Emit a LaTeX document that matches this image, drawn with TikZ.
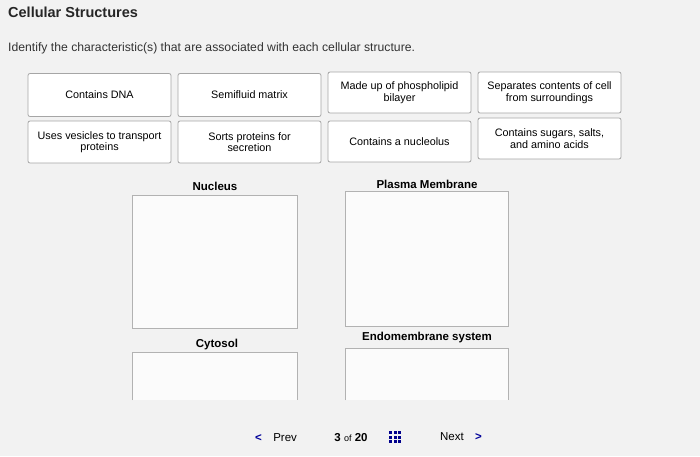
\documentclass[tikz,border=0pt]{standalone}
\usepackage{fontspec}
\setmainfont{Liberation Sans}
\begin{document}
\begin{tikzpicture}[x=1pt,y=-1pt,
  card/.style={draw=gray!70,fill=white,rounded corners=2pt,line width=0.8pt,align=center,font=\fontsize{10.8}{11.5}\selectfont,inner sep=1pt},
  drop/.style={draw=gray!60,fill=white!97!gray,line width=0.7pt},
  head/.style={font=\bfseries\fontsize{11.5}{13}\selectfont}]
\fill[gray!10] (0,0) rectangle (700,456);
\node[anchor=west,font=\bfseries\fontsize{14.5}{16}\selectfont,text=black!85,inner sep=0pt] (title) at (8,12) {Cellular Structures};
\node[anchor=west,font=\fontsize{12.2}{13}\selectfont,text=black!80,inner sep=0pt] (instr) at (8,48) {Identify the characteristic(s) that are associated with each cellular structure.};
\node[card,minimum width=143pt,minimum height=43pt] (c1) at (99.5,95) {Contains DNA};
\node[card,minimum width=143pt,minimum height=43pt] (c2) at (249.5,95) {Semifluid matrix};
\node[card,minimum width=143pt,minimum height=41pt] (c3) at (399.5,92.5) {Made up of phospholipid\\bilayer};
\node[card,minimum width=143pt,minimum height=41pt] (c4) at (549.5,92.5) {Separates contents of cell\\from surroundings};
\node[card,minimum width=143pt,minimum height=42pt] (c5) at (99.5,142) {Uses vesicles to transport\\proteins};
\node[card,minimum width=143pt,minimum height=42pt] (c6) at (249.5,142) {Sorts proteins for\\secretion};
\node[card,minimum width=143pt,minimum height=41pt] (c7) at (399.5,141.5) {Contains a nucleolus};
\node[card,minimum width=143pt,minimum height=41pt] (c8) at (549.5,138.5) {Contains sugars, salts,\\and amino acids};
\node[head] (h1) at (215,186) {Nucleus};
\node[head] (h2) at (427,184) {Plasma Membrane};
\node[head] (h3) at (217,345) {Cytosol};
\node[head] (h4) at (427,338) {Endomembrane system};
\draw[drop] (132,195) rectangle (297,328);
\draw[drop] (345,191) rectangle (508,326);
\draw[drop] (132,400) -- (132,352) -- (297,352) -- (297,400);
\draw[drop] (345,400) -- (345,348) -- (508,348) -- (508,400);
\node[font=\fontsize{11.5}{13}\selectfont] (prev) at (276,438) {\textbf{\textcolor{blue!60!black}{<}}\quad Prev};
\node[font=\fontsize{11.5}{13}\selectfont] (pg) at (351,438) {\textbf{3} {\fontsize{9}{10}\selectfont of} \textbf{20}};
\foreach \i in {0,1,2}\foreach \j in {0,1,2}
  \fill[blue!55!black] (389+\i*4.5,431+\j*4.5) rectangle ++(3.2,3.2);
\node[font=\fontsize{11.5}{13}\selectfont] (next) at (461,437) {Next\quad\textbf{\textcolor{blue!60!black}{>}}};
\end{tikzpicture}
\end{document}
